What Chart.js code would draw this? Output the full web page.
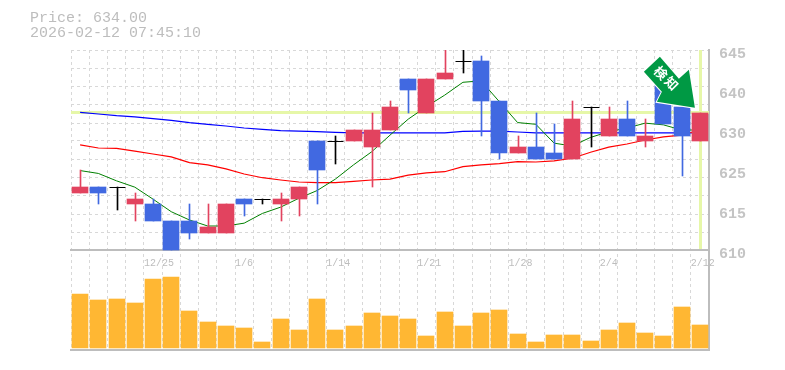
<!DOCTYPE html>
<html lang="en">

<head>
    <meta charset="UTF-8">
    <title>Price chart</title>
    <script src="https://cdn.jsdelivr.net/npm/chart.js@4/dist/chart.umd.js"></script>
    <style>
        body { margin: 0; background: #fff; }
        #wrap { width: 785px; height: 370px; }
    </style>
</head>

<body>
    <div id="wrap"><canvas id="chart"></canvas></div>
    <script>
        const titleLines = ['Price: 634.00', '2026-02-12 07:45:10'];
        const lastPrice = 634;

        const opens = [620, 621, 621, 618, 618, 615, 615, 613, 613, 619, 619, 618, 619, 629, 629, 629, 628, 631, 640, 634, 640, 643, 643, 636, 627, 628, 627, 626, 635, 630, 633, 629, 639, 635, 629];
        const closes = [621, 620, 621, 619, 615, 610, 613, 614, 618, 618, 619, 619, 621, 624, 629, 631, 631, 635, 638, 640, 641, 643, 636, 627, 628, 626, 626, 633, 635, 633, 630, 630, 632, 630, 634];
        const highs = [624, 621, 621, 620, 619, 615, 618, 618, 618, 619, 619, 620, 621, 629, 630, 631, 634, 636, 640, 640, 645, 645, 644, 636, 630, 634, 632, 636, 635, 635, 636, 633, 639, 635, 634];
        const lows = [620, 618, 617, 615, 615, 610, 612, 613, 613, 616, 618, 615, 616, 618, 625, 629, 621, 631, 634, 634, 640, 641, 630, 626, 627, 626, 626, 626, 628, 630, 630, 628, 632, 623, 629];
        const volumes = [5400, 4800, 4900, 4500, 6900, 7100, 3700, 2600, 2200, 2000, 600, 2900, 1800, 4900, 1800, 2200, 3500, 3200, 2900, 1200, 3600, 2200, 3500, 3800, 1400, 600, 1300, 1300, 700, 1800, 2500, 1500, 1200, 4100, 2300];

        const maShort = [623.9, 623.4, 622.1, 621, 618.9, 616.7, 615.25, 614.2, 614.2, 614.7, 616.4, 617.5, 619.05, 620.4, 622.4, 624.9, 627.2, 630.1, 632.9, 635.1, 637.1, 639.35, 639.6, 635.95, 632.3, 632, 628.7, 628.2, 629.7, 630.7, 631.35, 632.2, 631.9, 631, 631];
        const maMid = [628.4, 627.85, 627.8, 627.3, 626.8, 626.3, 625.3, 624.9, 624.2, 623.3, 622.65, 622.25, 621.9, 621.8, 621.8, 622, 622.25, 622.4, 623.1, 623.5, 623.7, 624.6, 624.9, 625.1, 625.45, 625.4, 625.6, 626.05, 627.1, 628, 628.55, 629.25, 629.8, 630.1, 631];
        const maLong = [634.1, 633.8, 633.5, 633.3, 633, 632.7, 632.3, 632, 631.7, 631.35, 631.1, 630.9, 630.8, 630.7, 630.6, 630.5, 630.5, 630.5, 630.5, 630.5, 630.5, 630.75, 630.8, 630.8, 630.65, 630.5, 630.5, 630.5, 630.5, 630.5, 630.5, 630.5, 630.5, 630.5, 630.5];

        const dateLabels = { 4: '12/25', 9: '1/6', 14: '1/14', 19: '1/21', 24: '1/28', 29: '2/4', 34: '2/12' };
        const priceTickValues = [645, 638, 631, 624, 617, 610];
        const priceTickLabels = ['645', '640', '630', '625', '615', '610'];
        const priceGrid = [645, 641.8, 638.6, 635.4, 632.2, 629.1, 625.9, 622.7, 619.5, 616.3, 613.1];

        const UP = '#e2435f', DOWN = '#4169e1', DOJI = '#000000';
        const GRAY = '#bdbdbd';
        const candleColor = i => opens[i] === closes[i] ? DOJI : (closes[i] > opens[i] ? UP : DOWN);
        const labels = opens.map((_, i) => i);

        // snap the bars to whole pixels, the reference has no soft edges
        const snapPlugin = {
            id: 'snap',
            afterDatasetsUpdate(chart) {
                chart.data.datasets.forEach((ds, d) => {
                    chart.getDatasetMeta(d).data.forEach(el => {
                        if (ds.snap === 'body') {
                            el.x = Math.round(el.x);
                            el.y = Math.round(el.y);
                            el.base = Math.round(el.base);
                        } else if (ds.snap === 'wick') {
                            el.x = Math.round(el.x) + 0.5;
                            el.y = Math.round(el.y);
                            el.base = Math.round(el.base);
                        } else if (ds.snap === 'doji') {
                            el.x = Math.round(el.x) + 0.5;
                            el.y = Math.round(el.y) + 0.5;
                        }
                    });
                });
            }
        };

        // current price line, last bar line
        const markerPlugin = {
            id: 'markers',
            beforeDatasetsDraw(chart) {
                const { ctx, chartArea, scales } = chart;
                const yPos = scales.y.getPixelForValue(lastPrice);
                const xPos = scales.x.getPixelForValue(labels.length - 1);
                ctx.save();
                ctx.fillStyle = '#e6f7a8';
                ctx.fillRect(chartArea.left, Math.round(yPos) - 2, chartArea.width, 3);
                ctx.fillRect(Math.round(xPos) - 1, chartArea.top, 3, Math.round(scales.y.getPixelForValue(610)) - chartArea.top - 1);
                ctx.restore();
            },
            afterDatasetsDraw(chart) {
                const { ctx, scales } = chart;
                const ax = scales.x.getPixelForValue(labels.length - 1);
                const ay = scales.y.getPixelForValue(lastPrice);
                const shape = [[-40, -56], [-56, -41], [-38, -21], [-43, -11], [-5, -5], [-11, -43], [-21, -34]];
                ctx.save();
                ctx.translate(ax, ay);
                ctx.beginPath();
                shape.forEach((p, i) => i ? ctx.lineTo(p[0], p[1]) : ctx.moveTo(p[0], p[1]));
                ctx.closePath();
                ctx.lineWidth = 2;
                ctx.strokeStyle = '#ffffff';
                ctx.stroke();
                ctx.fillStyle = '#009944';
                ctx.fill();
                ctx.translate(-33, -34);
                ctx.rotate(Math.PI / 4);
                ctx.fillStyle = '#ffffff';
                ctx.font = 'bold 13px "Noto Sans CJK JP"';
                ctx.textAlign = 'center';
                ctx.textBaseline = 'middle';
                ctx.letterSpacing = '2px';
                ctx.fillText('検知', 0, 0);
                ctx.restore();
            }
        };

        new Chart(document.getElementById('chart'), {
            data: {
                labels: labels,
                datasets: [
                    { type: 'line', label: 'short', data: maShort, borderColor: '#008000', borderWidth: 1, pointRadius: 0, tension: 0, order: 5 },
                    { type: 'line', label: 'mid', data: maMid, borderColor: '#ff0000', borderWidth: 1.2, pointRadius: 0, tension: 0, order: 5 },
                    { type: 'line', label: 'long', data: maLong, borderColor: '#0000ff', borderWidth: 1.2, pointRadius: 0, tension: 0, order: 5 },
                    { type: 'bar', label: 'volume', data: volumes, yAxisID: 'yv', backgroundColor: '#ffb733', barThickness: 16, grouped: false, snap: 'body', order: 6 },
                    { type: 'bar', label: 'wick', data: lows.map((l, i) => [l, highs[i]]), backgroundColor: labels.map(candleColor), barThickness: 1, grouped: false, snap: 'wick', order: 3 },
                    { type: 'bar', label: 'body', data: opens.map((o, i) => o === closes[i] ? null : [o, closes[i]]), backgroundColor: labels.map(candleColor), barThickness: 16, grouped: false, snap: 'body', order: 2 },
                    { type: 'line', label: 'doji', data: opens.map((o, i) => o === closes[i] ? o : null), showLine: false, pointStyle: 'line', pointRadius: 8, pointBorderWidth: 1, pointBorderColor: DOJI, snap: 'doji', order: 1 }
                ]
            },
            plugins: [snapPlugin, markerPlugin],
            options: {
                responsive: true,
                maintainAspectRatio: false,
                animation: false,
                layout: { padding: { left: 30, top: 11, bottom: 20 } },
                plugins: {
                    legend: { display: false },
                    tooltip: { enabled: false },
                    title: {
                        display: true,
                        text: titleLines,
                        align: 'start',
                        color: GRAY,
                        font: { family: '"Liberation Mono"', size: 15, weight: 'normal', lineHeight: 1 },
                        padding: { top: 0, bottom: 9 }
                    }
                },
                scales: {
                    x: {
                        type: 'category',
                        grid: { display: false },
                        ticks: { display: false },
                        border: { color: GRAY, width: 2 },
                        afterFit(scale) { scale.height = 0; }
                    },
                    xg: {
                        type: 'linear',
                        axis: 'x',
                        position: { y: 610 },
                        min: 0,
                        max: labels.length,
                        afterBuildTicks(scale) {
                            scale.ticks = labels.concat(labels.length).map(v => ({ value: v }));
                        },
                        grid: { color: '#d8d8d8', lineWidth: 1, drawTicks: false },
                        border: { color: GRAY, width: 2, dash: [3, 3] },
                        ticks: {
                            autoSkip: false,
                            maxRotation: 0,
                            align: 'start',
                            padding: 7,
                            color: GRAY,
                            font: { family: '"Liberation Mono"', size: 10 },
                            callback: v => dateLabels[v] || ''
                        }
                    },
                    y: {
                        type: 'linear',
                        position: 'left',
                        min: 592.5,
                        max: 645,
                        afterBuildTicks(scale) {
                            scale.ticks = priceGrid.map(v => ({ value: v }));
                        },
                        grid: { color: '#d8d8d8', lineWidth: 1, drawTicks: false },
                        border: { display: false, dash: [3, 3] },
                        ticks: { display: false },
                        afterFit(scale) { scale.width = 41; }
                    },
                    yr: {
                        type: 'linear',
                        position: 'right',
                        min: 592.5,
                        max: 645,
                        afterBuildTicks(scale) {
                            scale.ticks = priceTickValues.map(v => ({ value: v - 0.7 }));
                        },
                        grid: { display: false, drawTicks: false },
                        border: { color: GRAY, width: 2 },
                        ticks: {
                            autoSkip: false,
                            padding: 10,
                            color: '#c4c4c4',
                            font: { family: '"Liberation Mono"', size: 15, weight: 'bold' },
                            callback: (v, i) => priceTickLabels[i]
                        },
                        afterFit(scale) { scale.width = 76; }
                    },
                    yv: {
                        type: 'linear',
                        display: false,
                        min: -200,
                        max: 29800
                    }
                }
            }
        });
    </script>
</body>

</html>
